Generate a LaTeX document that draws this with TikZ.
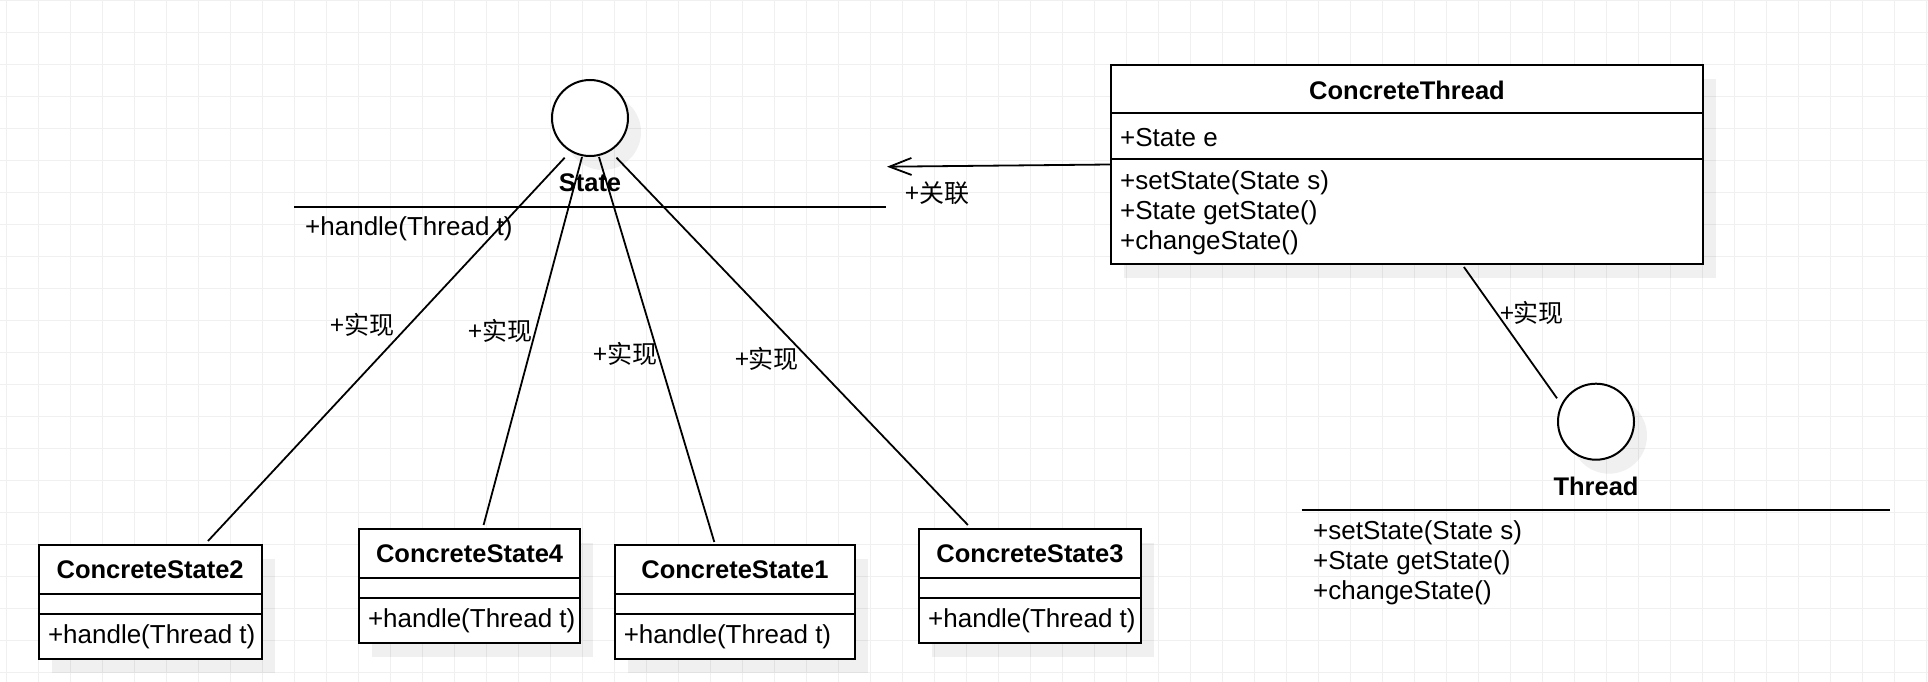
\documentclass[tikz,border=0pt]{standalone}
\usepackage{fontspec}
\setmainfont{Liberation Sans}
\newfontfamily\cjkfont{Noto Sans CJK SC}
\usetikzlibrary{arrows.meta,positioning,calc,shadows}

\begin{document}
\begin{tikzpicture}[
    x=1pt, y=1pt,
    % 全域樣式設定
    grid line/.style={draw=black!6, line width=1pt}, % 背景格線
    box shadow/.style={drop shadow={shadow xshift=13pt, shadow yshift=-14pt, fill=black, opacity=0.06}},
    class box/.style={draw, line width=2pt, rectangle, fill=white, anchor=north west, inner sep=0pt, minimum height=114pt, box shadow}, % 類別方框
    iface/.style={draw, line width=2pt, circle, fill=white, minimum size=76pt, inner sep=0pt, box shadow}, % 介面圓圈
    class title/.style={font=\fontsize{25.5}{30}\selectfont\bfseries, inner sep=0pt},
    member/.style={font=\fontsize{26}{30}\selectfont, anchor=west, inner sep=0pt, align=left},
    div line/.style={line width=2pt},
    link/.style={line width=1.8pt},
    link label/.style={font=\cjkfont\fontsize{25}{30}\selectfont, inner sep=0pt}
]

    % --- 0. 背景與格線 ---
    \useasboundingbox (0,0) rectangle (1928,-682);
    \fill[white] (0,0) rectangle (1928,-682);
    \foreach \gx in {0,...,60} \draw[grid line] ({6.3+32*\gx},0) -- ({6.3+32*\gx},-682);
    \foreach \gy in {0,...,21} \draw[grid line] (0,{-0.3-32*\gy}) -- (1928,{-0.3-32*\gy});

    % --- 1. 介面 State ---
    \node[iface] (state) at (590,-118) {};
    \node[class title] (state title) at ($(state.south)+(0,-25.7)$) {State};
    \draw[div line] ($(state.south)+(-296,-49.7)$) coordinate (state line west) -- ($(state.south)+(296,-49.7)$) coordinate (state line east);
    \node[member] (state ops) at ($(state line west)+(11,-22.5)$) {+handle(Thread t)};

    % --- 2. 類別 ConcreteThread ---
    \node[class box, minimum width=592pt, minimum height=199pt] (ct) at (1110,-64) {};
    \node[class title] at ($(ct.north)+(0,-26)$) {ConcreteThread};
    \draw[div line] ($(ct.north west)+(0,-49.3)$) -- ($(ct.north east)+(0,-49.3)$);
    \draw[div line] ($(ct.north west)+(0,-95)$) -- ($(ct.north east)+(0,-95)$);
    \node[member] at ($(ct.north west)+(10,-73.3)$) {+State e};
    \node[member] at ($(ct.north west)+(10,-148.3)$) {+setState(State s)\\+State getState()\\+changeState()};

    % --- 3. 介面 Thread ---
    \node[iface] (thread) at (1596,-421.7) {};
    \node[class title] (thread title) at ($(thread.south)+(0,-25.3)$) {Thread};
    \draw[div line] ($(thread.south)+(-294.5,-49.6)$) coordinate (thread line west) -- ($(thread.south)+(293.5,-49.6)$);
    \node[member] (thread ops) at ($(thread line west)+(11.5,-52.4)$) {+setState(State s)\\+State getState()\\+changeState()};

    % --- 4. 四個 ConcreteState 類別 ---
    \node[class box, minimum width=222.7pt] (cs2) at (37.8,-544) {};
    \node[class title] at ($(cs2.north)+(0,-26)$) {ConcreteState2};
    \draw[div line] ($(cs2.north west)+(0,-50)$) -- ($(cs2.north east)+(0,-50)$);
    \draw[div line] ($(cs2.north west)+(0,-70)$) -- ($(cs2.north east)+(0,-70)$);
    \node[member] at ($(cs2.north west)+(10,-92.5)$) {+handle(Thread t)};

    \node[class box, minimum width=221.6pt] (cs4) at (357.8,-528) {};
    \node[class title] at ($(cs4.north)+(0,-26)$) {ConcreteState4};
    \draw[div line] ($(cs4.north west)+(0,-50)$) -- ($(cs4.north east)+(0,-50)$);
    \draw[div line] ($(cs4.north west)+(0,-70)$) -- ($(cs4.north east)+(0,-70)$);
    \node[member] at ($(cs4.north west)+(10,-92.5)$) {+handle(Thread t)};

    \node[class box, minimum width=240.7pt] (cs1) at (613.6,-544) {};
    \node[class title] at ($(cs1.north)+(0,-26)$) {ConcreteState1};
    \draw[div line] ($(cs1.north west)+(0,-50)$) -- ($(cs1.north east)+(0,-50)$);
    \draw[div line] ($(cs1.north west)+(0,-70)$) -- ($(cs1.north east)+(0,-70)$);
    \node[member] at ($(cs1.north west)+(10,-92.5)$) {+handle(Thread t)};

    \node[class box, minimum width=222pt] (cs3) at (918,-528) {};
    \node[class title] at ($(cs3.north)+(0,-26)$) {ConcreteState3};
    \draw[div line] ($(cs3.north west)+(0,-50)$) -- ($(cs3.north east)+(0,-50)$);
    \draw[div line] ($(cs3.north west)+(0,-70)$) -- ($(cs3.north east)+(0,-70)$);
    \node[member] at ($(cs3.north west)+(10,-92.5)$) {+handle(Thread t)};

    % --- 5. 實現連線 ---
    \draw[link] ($(state.south)+(-25.3,-0.7)$) -- ($(cs2.north west)+(170.2,3)$);
    \draw[link] ($(state.south)+(-8,0)$) -- ($(cs4.north west)+(125.8,3)$);
    \draw[link] ($(state.south)+(9,0)$) -- ($(cs1.north west)+(100.7,2)$);
    \draw[link] ($(state.south)+(26.5,-0.7)$) -- ($(cs3.north west)+(49.9,3)$);
    \draw[link] ($(ct.south west)+(353.9,-2)$) -- ($(thread.west)+(0,23.4)$);

    \node[link label] (impl2) at (362.5,-325) {+实现};
    \node[link label] (impl4) at (500.5,-330.7) {+实现};
    \node[link label] (impl1) at (625.5,-354.3) {+实现};
    \node[link label] (impl3) at (767,-359.3) {+实现};
    \node[link label] (impl thread) at (1532,-313.3) {+实现};

    % --- 6. 關聯箭頭 ---
    \coordinate (assoc end) at ($(state line east)+(1,40)$);
    \draw[link, -{Straight Barb[length=22pt, width=17pt]}] (ct.west) -- (assoc end);
    \node[link label, anchor=west] (assoc label) at (905,-193) {+关联};

\end{tikzpicture}
\end{document}
